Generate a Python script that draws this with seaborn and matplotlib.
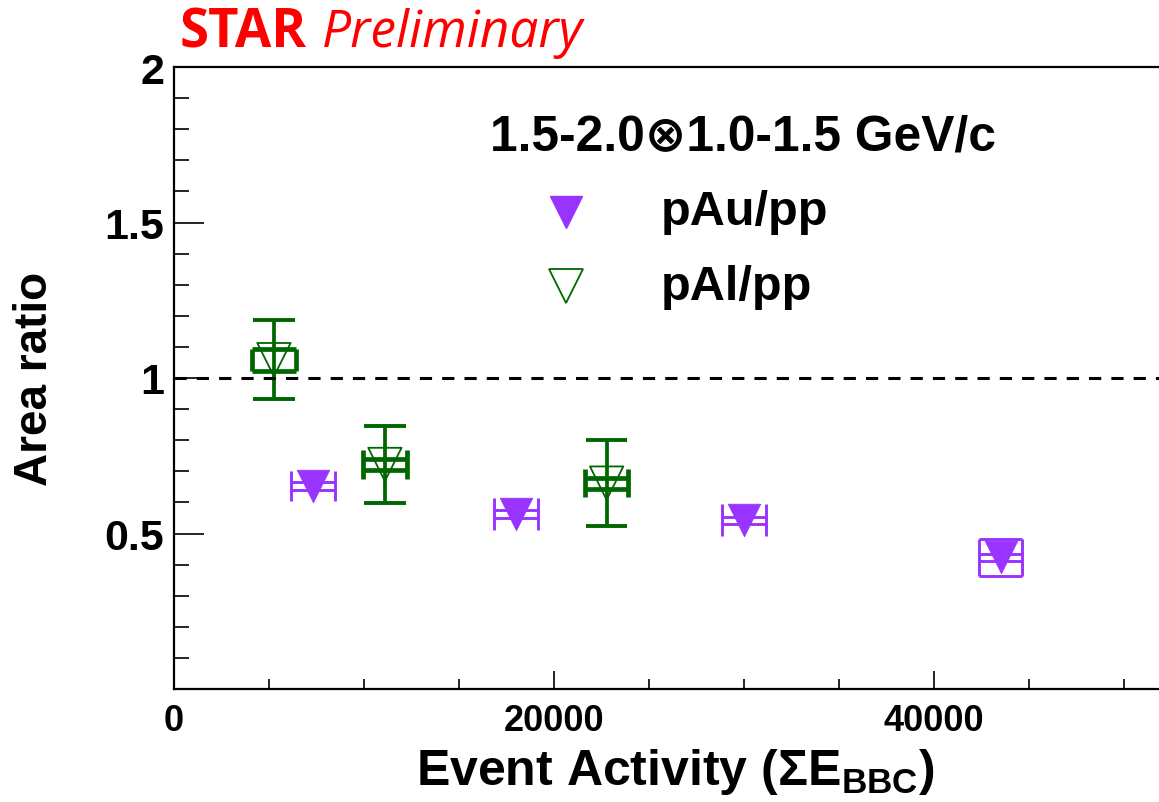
import matplotlib
matplotlib.use("Agg")
import matplotlib.pyplot as plt
import seaborn as sns
import pandas as pd
from matplotlib.lines import Line2D

# ---------------- data ----------------
pau_x = [7300, 18000, 30000, 43500]
pau_y = [0.653, 0.563, 0.543, 0.423]
pau_sys = [0.047, 0.051, 0.051, 0.060]
pau_inner = [0.014, 0.012, 0.011, 0.011]
pau_closed = [False, False, False, True]

pal_x = [5260, 11100, 22770]
pal_y = [1.059, 0.722, 0.662]
pal_stat = [0.128, 0.123, 0.138]
pal_sys = [0.035, 0.048, 0.045]
pal_inner = [0.035, 0.019, 0.018]

box_dx = 1150

x_ticks = [0, 20000, 40000]
x_tick_labels = ["0", "20000", "40000"]
y_ticks = [0.5, 1, 1.5, 2]
y_tick_labels = ["0.5", "1", "1.5", "2"]
legend_header = "1.5-2.0\u22971.0-1.5 GeV/c"
series_names = ["pAu/pp", "pAl/pp"]
ref_level = 1.0

PURPLE = "#9933ff"
GREEN = "#006600"

# ---------------- style ----------------
sns.set_theme(style="ticks")
plt.rcParams['font.family'] = ['Liberation Sans', 'DejaVu Sans']
plt.rcParams['font.weight'] = 'bold'
plt.rcParams['text.color'] = 'black'
plt.rcParams['axes.labelcolor'] = 'black'
plt.rcParams['xtick.color'] = 'black'
plt.rcParams['ytick.color'] = 'black'
plt.rcParams['mathtext.fontset'] = 'custom'
plt.rcParams['mathtext.rm'] = 'Liberation Sans:bold'
plt.rcParams['mathtext.bf'] = 'Liberation Sans:bold'
plt.rcParams['mathtext.it'] = 'Liberation Sans:bold'

W, H = 1159, 803
fig = plt.figure(figsize=(W / 100, H / 100), dpi=100)
fig.patch.set_facecolor("white")
ax = fig.add_axes([174 / W, 1 - 690 / H, 1007 / W, 622 / H])
ax.set_facecolor("white")
ax.set_xlim(0, 53000)
ax.set_ylim(0, 2)

# ---------------- pAu systematic boxes ----------------
for x, y, s, inn, closed in zip(pau_x, pau_y, pau_sys, pau_inner, pau_closed):
    ax.vlines([x - box_dx, x + box_dx], y - s, y + s, color=PURPLE, lw=2.1, zorder=2)
    ax.hlines([y - inn, y + inn], x - box_dx, x + box_dx, color=PURPLE, lw=2.1, zorder=2)
    if closed:
        ax.hlines([y - s, y + s], x - box_dx, x + box_dx, color=PURPLE, lw=2.1, zorder=2)

# ---------------- pAl stat bars + sys boxes ----------------
for x, y, st, s, inn in zip(pal_x, pal_y, pal_stat, pal_sys, pal_inner):
    ax.vlines(x, y - st, y + st, color=GREEN, lw=2.7, zorder=2)
    ax.hlines([y - st, y + st], x - box_dx * 0.95, x + box_dx * 0.95, color=GREEN, lw=2.8, zorder=2)
    ax.vlines([x - box_dx, x + box_dx], y - s, y + s, color=GREEN, lw=3.4, zorder=2)
    ax.hlines([y - inn, y + inn], x - box_dx, x + box_dx, color=GREEN, lw=3.4, zorder=2)

# ---------------- markers ----------------
df_pau = pd.DataFrame({"x": pau_x, "y": pau_y})
df_pal = pd.DataFrame({"x": pal_x, "y": pal_y})
sns.scatterplot(data=df_pau, x="x", y="y", marker="v", s=23.5 ** 2,
                color=PURPLE, edgecolor=PURPLE, linewidth=0.5, ax=ax, zorder=4, legend=False)
sns.scatterplot(data=df_pal, x="x", y="y", marker="v", s=24 ** 2,
                facecolor="none", edgecolor=GREEN, linewidth=1.3, ax=ax, zorder=4, legend=False)
for coll in ax.collections[-1:]:
    coll.set_facecolor("none")
    coll.set_edgecolor(GREEN)

# reference line
ax.axhline(ref_level, color="black", lw=2.2, ls=(0, (4, 3.3)), zorder=5)

# ---------------- axes ----------------
ax.set_xticks(x_ticks)
ax.set_xticklabels(x_tick_labels)
ax.set_xticks([v for v in range(5000, 53000, 5000) if v not in x_ticks], minor=True)
ax.set_yticks(y_ticks)
ax.set_yticklabels(y_tick_labels)
ax.set_yticks([round(0.1 * i, 1) for i in range(1, 20) if i % 5 != 0], minor=True)

ax.tick_params(axis='y', which='major', direction='in', length=21.6, width=1.2, pad=7,
               labelsize=31, colors="black")
ax.tick_params(axis='y', which='minor', direction='in', length=10.8, width=1.2)
ax.tick_params(axis='x', which='major', direction='in', length=13, width=1.2, pad=10,
               labelsize=26, colors="black")
ax.tick_params(axis='x', which='minor', direction='in', length=7, width=1.2)
for lab in ax.get_xticklabels() + ax.get_yticklabels():
    lab.set_fontweight("bold")
    lab.set_color("black")

for side in ["top", "left", "bottom"]:
    ax.spines[side].set_linewidth(1.6)
    ax.spines[side].set_color("black")
ax.spines["right"].set_visible(False)

ax.set_xlabel(r"Event Activity ($\Sigma$E$_{\mathrm{BBC}}$)", fontsize=36, fontweight="bold",
              va="center", color="black")
ax.xaxis.set_label_coords((675 - 174) / 1007, (690 - 772) / 622)
ax.set_ylabel("Area ratio", fontsize=33, fontweight="bold", va="center", color="black")
ax.yaxis.set_label_coords((35 - 174) / 1007, 0.5)

# ---------------- legend ----------------
fig.text(490 / W, 1 - 137 / H, legend_header, fontsize=35.8, fontweight="bold", color="black",
         ha="left", va="center", family=['Liberation Sans', 'DejaVu Sans'])
fig.add_artist(Line2D([566 / W], [1 - 213 / H], transform=fig.transFigure, marker="v",
                      markersize=23.5, color=PURPLE, markeredgecolor=PURPLE, lw=0))
fig.add_artist(Line2D([566 / W], [1 - 287 / H], transform=fig.transFigure, marker="v",
                      markersize=24, markerfacecolor="none", markeredgecolor=GREEN,
                      markeredgewidth=1.3, lw=0))
fig.text(661 / W, 1 - 213 / H, series_names[0], fontsize=35, fontweight="bold", color="black",
         ha="left", va="center")
fig.text(661 / W, 1 - 287 / H, series_names[1], fontsize=35, fontweight="bold", color="black",
         ha="left", va="center")

# ---------------- STAR Preliminary ----------------
fig.text(180 / W, 1 - 47 / H, "STAR", fontsize=38, fontweight="bold", color="#ff0000",
         family="Open Sans", ha="left", va="baseline")
fig.text(322 / W, 1 - 47 / H, "Preliminary", fontsize=37, fontweight="normal", style="italic",
         color="#ff0000", family="Open Sans", ha="left", va="baseline")

fig.savefig("out.png", dpi=100, facecolor="white")
